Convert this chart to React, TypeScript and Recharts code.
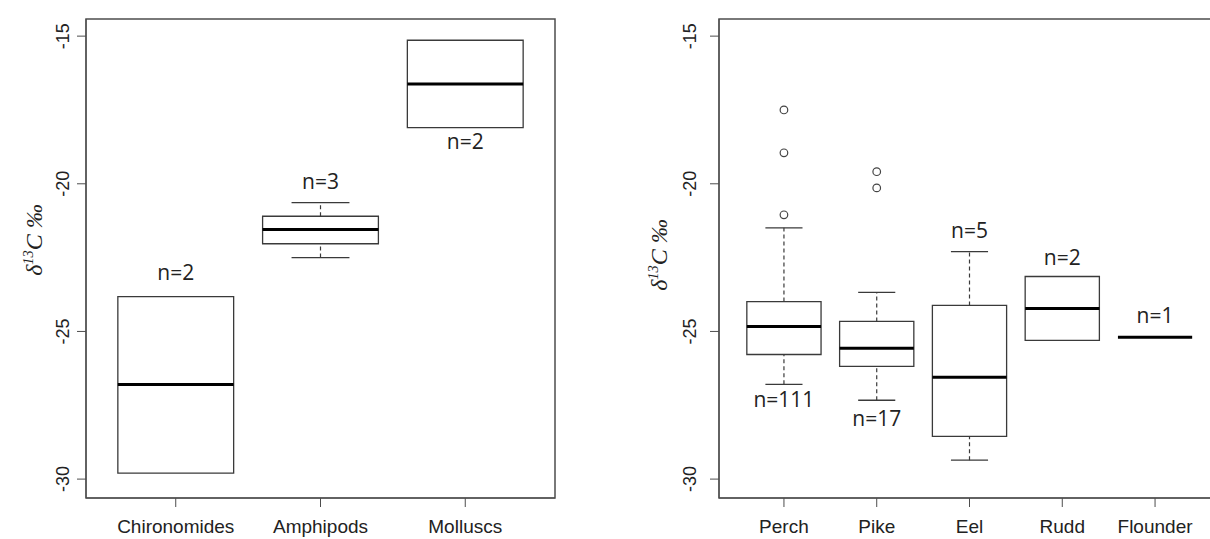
import React from 'react';
import { ComposedChart, XAxis, YAxis, Scatter, ReferenceArea, ReferenceLine } from 'recharts';

// invertebrates (left panel)
const leftGroups = ['Chironomides', 'Amphipods', 'Molluscs'];
const leftMin = [-29.8, -22.5, -18.1];
const leftQ1 = [-29.8, -22.03, -18.1];
const leftMedian = [-26.8, -21.55, -16.62];
const leftQ3 = [-23.82, -21.1, -15.14];
const leftMax = [-23.82, -20.64, -15.14];
const leftOutliers: number[][] = [[], [], []];
const leftCounts = ['n=2', 'n=3', 'n=2'];
const leftCountY = [-23.0, -19.9, -18.55];

// fish (right panel)
const rightGroups = ['Perch', 'Pike', 'Eel', 'Rudd', 'Flounder'];
const rightMin = [-26.79, -27.33, -29.36, -25.3, -25.2];
const rightQ1 = [-25.78, -26.18, -28.55, -25.3, -25.2];
const rightMedian = [-24.83, -25.57, -26.55, -24.22, -25.2];
const rightQ3 = [-23.99, -24.66, -24.12, -23.14, -25.2];
const rightMax = [-21.49, -23.68, -22.3, -23.14, -25.2];
const rightOutliers = [[-17.5, -18.95, -21.05], [-19.59, -20.14], [], [], []];
const rightCounts = ['n=111', 'n=17', 'n=5', 'n=2', 'n=1'];
const rightCountY = [-27.3, -27.94, -21.55, -22.47, -24.43];

const yTicks = [-30, -25, -20, -15];
const Y_DOMAIN: [number, number] = [-30.64, -14.42];

const FRAME = '#4d4d4d';
const LINE = '#3a3a3a';
const SANS = "'Liberation Sans', Arial, sans-serif";

function YTick({ x, y, payload }: any) {
  return (
    <text x={x} y={y} transform={`rotate(-90 ${x} ${y})`} textAnchor="middle" fontSize={18} fontFamily={SANS} fill="#222">
      {payload.value}
    </text>
  );
}

interface PanelProps {
  groups: string[];
  lo: number[];
  q1: number[];
  med: number[];
  q3: number[];
  hi: number[];
  outliers: number[][];
  counts: string[];
  countY: number[];
  width: number;
  yAxisWidth: number;
  marginRight: number;
  yTickMargin: number;
}

function BoxPanel({ groups, lo, q1, med, q3, hi, outliers, counts, countY, width, yAxisWidth, marginRight, yTickMargin }: PanelProps) {
  const n = groups.length;
  // R style: 0.5..n+0.5 extended by 4%
  const pad = n * 0.04;
  const xDomain: [number, number] = [0.5 - pad, n + 0.5 + pad];
  const labels = groups.map((_, i) => ({ x: i + 1, y: countY[i], text: counts[i] }));
  const pts = outliers.flatMap((vals, i) => vals.map((v) => ({ x: i + 1, y: v })));

  const marks: React.ReactNode[] = [];
  groups.forEach((_, i) => {
    const c = i + 1;
    if (hi[i] > q3[i]) {
      marks.push(<ReferenceLine key={`uw${i}`} segment={[{ x: c, y: q3[i] }, { x: c, y: hi[i] }]} stroke={LINE} strokeWidth={1.2} strokeDasharray="4 3" />);
      marks.push(<ReferenceLine key={`uc${i}`} segment={[{ x: c - 0.2, y: hi[i] }, { x: c + 0.2, y: hi[i] }]} stroke={LINE} strokeWidth={1.3} />);
    }
    if (lo[i] < q1[i]) {
      marks.push(<ReferenceLine key={`lw${i}`} segment={[{ x: c, y: lo[i] }, { x: c, y: q1[i] }]} stroke={LINE} strokeWidth={1.2} strokeDasharray="4 3" />);
      marks.push(<ReferenceLine key={`lc${i}`} segment={[{ x: c - 0.2, y: lo[i] }, { x: c + 0.2, y: lo[i] }]} stroke={LINE} strokeWidth={1.3} />);
    }
    if (q3[i] > q1[i]) {
      marks.push(<ReferenceArea key={`b${i}`} x1={c - 0.4} x2={c + 0.4} y1={q1[i]} y2={q3[i]} fill="#fff" fillOpacity={1} stroke={LINE} strokeWidth={1.3} />);
    }
    marks.push(<ReferenceLine key={`m${i}`} segment={[{ x: c - 0.4, y: med[i] }, { x: c + 0.4, y: med[i] }]} stroke="#000" strokeWidth={3} />);
  });

  return (
    <ComposedChart width={width} height={539} margin={{ top: 19, right: marginRight, bottom: 0, left: 0 }}>
      <XAxis
        type="number"
        dataKey="x"
        domain={xDomain}
        allowDataOverflow
        ticks={groups.map((_, i) => i + 1)}
        tickFormatter={(v: number) => groups[v - 1]}
        interval={0}
        height={41}
        tickSize={9}
        tickMargin={13}
        stroke={FRAME}
        tick={{ fontSize: 19, fontFamily: SANS, fill: '#222' }}
      />
      <YAxis
        type="number"
        dataKey="y"
        domain={Y_DOMAIN}
        allowDataOverflow
        ticks={yTicks}
        interval={0}
        width={yAxisWidth}
        tickSize={9}
        tickMargin={yTickMargin}
        stroke={FRAME}
        tick={<YTick />}
      />
      <ReferenceArea x1={xDomain[0]} x2={xDomain[1]} y1={Y_DOMAIN[0]} y2={Y_DOMAIN[1]} fill="none" stroke={FRAME} strokeWidth={1.5} />
      {marks}
      {pts.length > 0 && (
        <Scatter
          data={pts}
          isAnimationActive={false}
          shape={(p: any) => <circle cx={p.cx} cy={p.cy} r={3.8} fill="none" stroke="#444" strokeWidth={1.2} />}
        />
      )}
      <Scatter
        data={labels}
        isAnimationActive={false}
        shape={(p: any) => (
          <text x={p.cx} y={p.cy} textAnchor="middle" dominantBaseline="central" fontSize={21} fontFamily="'Open Sans', sans-serif" fill="#222">
            {p.payload.text}
          </text>
        )}
      />
    </ComposedChart>
  );
}

function AxisTitle({ left, top }: { left: number; top: number }) {
  return (
    <div
      style={{
        position: 'absolute',
        left,
        top,
        transform: 'translate(-50%, -50%) rotate(-90deg)',
        fontFamily: "'Liberation Serif', 'DejaVu Serif', serif",
        fontStyle: 'italic',
        fontSize: 24,
        color: '#222',
        whiteSpace: 'nowrap',
        lineHeight: 1,
      }}
    >
      δ<sup style={{ fontSize: '0.6em' }}>13</sup>C ‰
    </div>
  );
}

export default function App() {
  return (
    <div style={{ position: 'absolute', left: 0, top: 0, width: 1210, height: 539, overflow: 'hidden', background: '#fff' }}>
      <div style={{ position: 'absolute', left: 0, top: 0 }}>
        <BoxPanel
          groups={leftGroups}
          lo={leftMin}
          q1={leftQ1}
          med={leftMedian}
          q3={leftQ3}
          hi={leftMax}
          outliers={leftOutliers}
          counts={leftCounts}
          countY={leftCountY}
          width={600}
          yAxisWidth={86}
          marginRight={45}
          yTickMargin={8}
        />
      </div>
      <div style={{ position: 'absolute', left: 620, top: 0 }}>
        <BoxPanel
          groups={rightGroups}
          lo={rightMin}
          q1={rightQ1}
          med={rightMedian}
          q3={rightQ3}
          hi={rightMax}
          outliers={rightOutliers}
          counts={rightCounts}
          countY={rightCountY}
          width={600}
          yAxisWidth={99}
          marginRight={0}
          yTickMargin={14}
        />
      </div>
      <AxisTitle left={33} top={240} />
      <AxisTitle left={658} top={255} />
    </div>
  );
}
